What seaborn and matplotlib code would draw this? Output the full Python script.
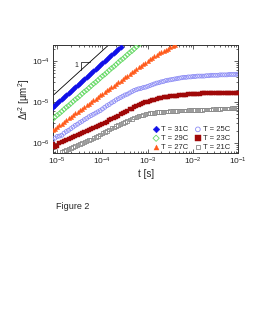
import numpy as np
import pandas as pd
import matplotlib
matplotlib.use("Agg")
import matplotlib.pyplot as plt
import seaborn as sns

# lag times, log10(t [s]), 0.05 decade steps
log_t = [-5.10, -5.05, -5.00, -4.95, -4.90, -4.85, -4.80, -4.75, -4.70, -4.65,
         -4.60, -4.55, -4.50, -4.45, -4.40, -4.35, -4.30, -4.25, -4.20, -4.15,
         -4.10, -4.05, -4.00, -3.95, -3.90, -3.85, -3.80, -3.75, -3.70, -3.65,
         -3.60, -3.55, -3.50, -3.45, -3.40, -3.35, -3.30, -3.25, -3.20, -3.15,
         -3.10, -3.05, -3.00, -2.95, -2.90, -2.85, -2.80, -2.75, -2.70, -2.65,
         -2.60, -2.55, -2.50, -2.45, -2.40, -2.35, -2.30, -2.25, -2.20, -2.15,
         -2.10, -2.05, -2.00, -1.95, -1.90, -1.85, -1.80, -1.75, -1.70, -1.65,
         -1.60, -1.55, -1.50, -1.45, -1.40, -1.35, -1.30, -1.25, -1.20, -1.15,
         -1.10, -1.05, -1.00]

# log10(MSD [um^2])
msd_31 = [-5.13, -5.08, -5.03, -4.98, -4.93, -4.89, -4.84, -4.79, -4.74, -4.69,
          -4.64, -4.59, -4.54, -4.49, -4.44, -4.40, -4.35, -4.30, -4.25, -4.20,
          -4.15, -4.10, -4.05, -4.00, -3.95, -3.91, -3.86, -3.81, -3.76, -3.71,
          -3.66]
msd_29 = [-5.42, -5.37, -5.32, -5.28, -5.23, -5.18, -5.13, -5.09, -5.04, -4.99,
          -4.94, -4.90, -4.85, -4.80, -4.75, -4.71, -4.66, -4.61, -4.56, -4.52,
          -4.47, -4.42, -4.37, -4.33, -4.28, -4.23, -4.18, -4.14, -4.09, -4.04,
          -3.99, -3.95, -3.90, -3.85, -3.80, -3.76, -3.71, -3.66, -3.61]
msd_27 = [-5.69, -5.65, -5.61, -5.57, -5.53, -5.48, -5.44, -5.40, -5.36, -5.32,
          -5.28, -5.24, -5.20, -5.16, -5.12, -5.08, -5.04, -5.00, -4.96, -4.92,
          -4.88, -4.84, -4.80, -4.76, -4.72, -4.68, -4.64, -4.60, -4.56, -4.52,
          -4.48, -4.44, -4.40, -4.36, -4.32, -4.28, -4.24, -4.20, -4.16, -4.12,
          -4.08, -4.04, -4.00, -3.96, -3.93, -3.89, -3.86, -3.82, -3.79, -3.76,
          -3.73, -3.70, -3.67, -3.645, -3.62]
msd_25 = [-5.93, -5.88, -5.84, -5.83, -5.81, -5.76, -5.72, -5.69, -5.65, -5.61,
          -5.57, -5.54, -5.50, -5.47, -5.43, -5.40, -5.36, -5.33, -5.30, -5.27,
          -5.24, -5.21, -5.17, -5.13, -5.09, -5.06, -5.02, -4.99, -4.95, -4.92,
          -4.89, -4.86, -4.83, -4.81, -4.78, -4.75, -4.72, -4.70, -4.68, -4.67,
          -4.65, -4.64, -4.62, -4.60, -4.58, -4.56, -4.54, -4.53, -4.51, -4.50,
          -4.48, -4.47, -4.46, -4.45, -4.44, -4.43, -4.42, -4.41, -4.40, -4.40,
          -4.39, -4.39, -4.38, -4.38, -4.37, -4.37, -4.37, -4.37, -4.36, -4.36,
          -4.35, -4.35, -4.35, -4.35, -4.34, -4.34, -4.34, -4.34, -4.33, -4.33,
          -4.33, -4.33, -4.32]
msd_23 = [-6.02, -6.09, -6.08, -6.00, -5.97, -5.95, -5.93, -5.91, -5.88, -5.85,
          -5.82, -5.80, -5.77, -5.75, -5.72, -5.70, -5.67, -5.65, -5.63, -5.61,
          -5.59, -5.57, -5.54, -5.51, -5.48, -5.45, -5.42, -5.39, -5.36, -5.33,
          -5.30, -5.27, -5.24, -5.21, -5.18, -5.16, -5.13, -5.11, -5.08, -5.06,
          -5.03, -5.01, -4.99, -4.97, -4.95, -4.94, -4.92, -4.91, -4.90, -4.89,
          -4.88, -4.87, -4.86, -4.86, -4.85, -4.85, -4.84, -4.83, -4.82, -4.82,
          -4.81, -4.81, -4.80, -4.80, -4.80, -4.80, -4.79, -4.79, -4.79, -4.79,
          -4.79, -4.79, -4.78, -4.78, -4.78, -4.78, -4.78, -4.78, -4.78, -4.78,
          -4.78, -4.78, -4.78]
# 21C starts at log t = -4.90
msd_21 = [-6.22, -6.20, -6.17, -6.15, -6.12, -6.10, -6.07, -6.05, -6.02, -6.00,
          -5.97, -5.95, -5.93, -5.91, -5.88, -5.85, -5.82, -5.79, -5.76, -5.73,
          -5.70, -5.67, -5.64, -5.62, -5.59, -5.56, -5.53, -5.51, -5.48, -5.46,
          -5.43, -5.41, -5.38, -5.36, -5.34, -5.33, -5.31, -5.30, -5.28, -5.27,
          -5.26, -5.26, -5.25, -5.25, -5.24, -5.24, -5.23, -5.23, -5.22, -5.22,
          -5.22, -5.22, -5.21, -5.21, -5.21, -5.21, -5.20, -5.20, -5.20, -5.19,
          -5.19, -5.19, -5.19, -5.18, -5.18, -5.18, -5.18, -5.17, -5.17, -5.17,
          -5.17, -5.16, -5.16, -5.16, -5.16, -5.15, -5.15, -5.15, -5.15]

labels = ["T = 31C", "T = 29C", "T = 27C", "T = 25C", "T = 23C", "T = 21C"]
series = [msd_31, msd_29, msd_27, msd_25, msd_23, msd_21]
start = [0, 0, 0, 0, 0, 4]

# slope-1 guide line and triangle (log10 units)
guide_t = [-5.2, -3.5]
guide_off = 0.25

sns.set_style("ticks")
plt.rcParams["font.family"] = ["Liberation Sans", "DejaVu Sans"]
plt.rcParams["mathtext.default"] = "regular"

fig = plt.figure(figsize=(2.75, 3.23), dpi=100)
ax = fig.add_axes([0.193, 0.526, 0.673, 0.335])

styles = [
    dict(marker="D", color="#1010e8", filled=True, s=8),
    dict(marker="D", color="#66d966", filled=False, s=7),
    dict(marker="^", color="#ff5a1a", filled=True, s=9),
    dict(marker="o", color="#8c8cf5", filled=False, s=8),
    dict(marker="s", color="#a00808", filled=True, s=10),
    dict(marker="s", color="#8a8a8a", filled=False, s=7),
]

for lab, vals, i0, st in zip(labels, series, start, styles):
    df = pd.DataFrame({"t": 10 ** np.array(log_t[i0:i0 + len(vals)]),
                       "msd": 10 ** np.array(vals)})
    if st["filled"]:
        sns.scatterplot(data=df, x="t", y="msd", ax=ax, marker=st["marker"],
                        s=st["s"], color=st["color"], edgecolor=st["color"],
                        linewidth=0.3, label=lab, zorder=3)
    else:
        sns.scatterplot(data=df, x="t", y="msd", ax=ax, marker=st["marker"],
                        s=st["s"], color=st["color"], facecolors="none",
                        edgecolor=st["color"], linewidth=0.6, label=lab, zorder=3)

gt = 10 ** np.array(guide_t)
ax.plot(gt, gt * 10 ** guide_off, color="black", lw=0.6, zorder=2)
# slope triangle
tx1, tx2 = -4.47, -4.27
ax.plot(10 ** np.array([tx1, tx1, tx2]),
        10 ** (np.array([tx1, tx2, tx2]) + guide_off),
        color="black", lw=0.5)
ax.text(10 ** (tx1 - 0.1), 10 ** (tx1 + guide_off + 0.1), "1", fontsize=5,
        ha="center", va="center")

ax.set_xscale("log")
ax.set_yscale("log")
ax.set_xlim(8.1e-6, 0.1)
ax.set_ylim(5.7e-7, 2.45e-4)
ax.set_xlabel("t [s]", fontsize=7, labelpad=1)
ax.set_ylabel("Δr$^2$ [µm$^2$]", fontsize=7, labelpad=0.5)

ax.tick_params(which="both", direction="in", top=True, right=True,
               labelsize=6, pad=2, width=0.5)
ax.tick_params(which="major", length=3)
ax.tick_params(which="minor", length=1.5)
for sp in ax.spines.values():
    sp.set_linewidth(0.7)
    sp.set_color("#333333")

ax.legend(ncol=2, loc="lower right", bbox_to_anchor=(0.975, -0.01),
          fontsize=5.5, frameon=False, handletextpad=0.2, columnspacing=0.7,
          labelspacing=0.2, borderaxespad=0.0, markerscale=1.2,
          handlelength=1.0)

fig.text(0.204, 0.36, "Figure 2", fontsize=6.5, ha="left", va="center")

fig.savefig("out.png", dpi=100)
